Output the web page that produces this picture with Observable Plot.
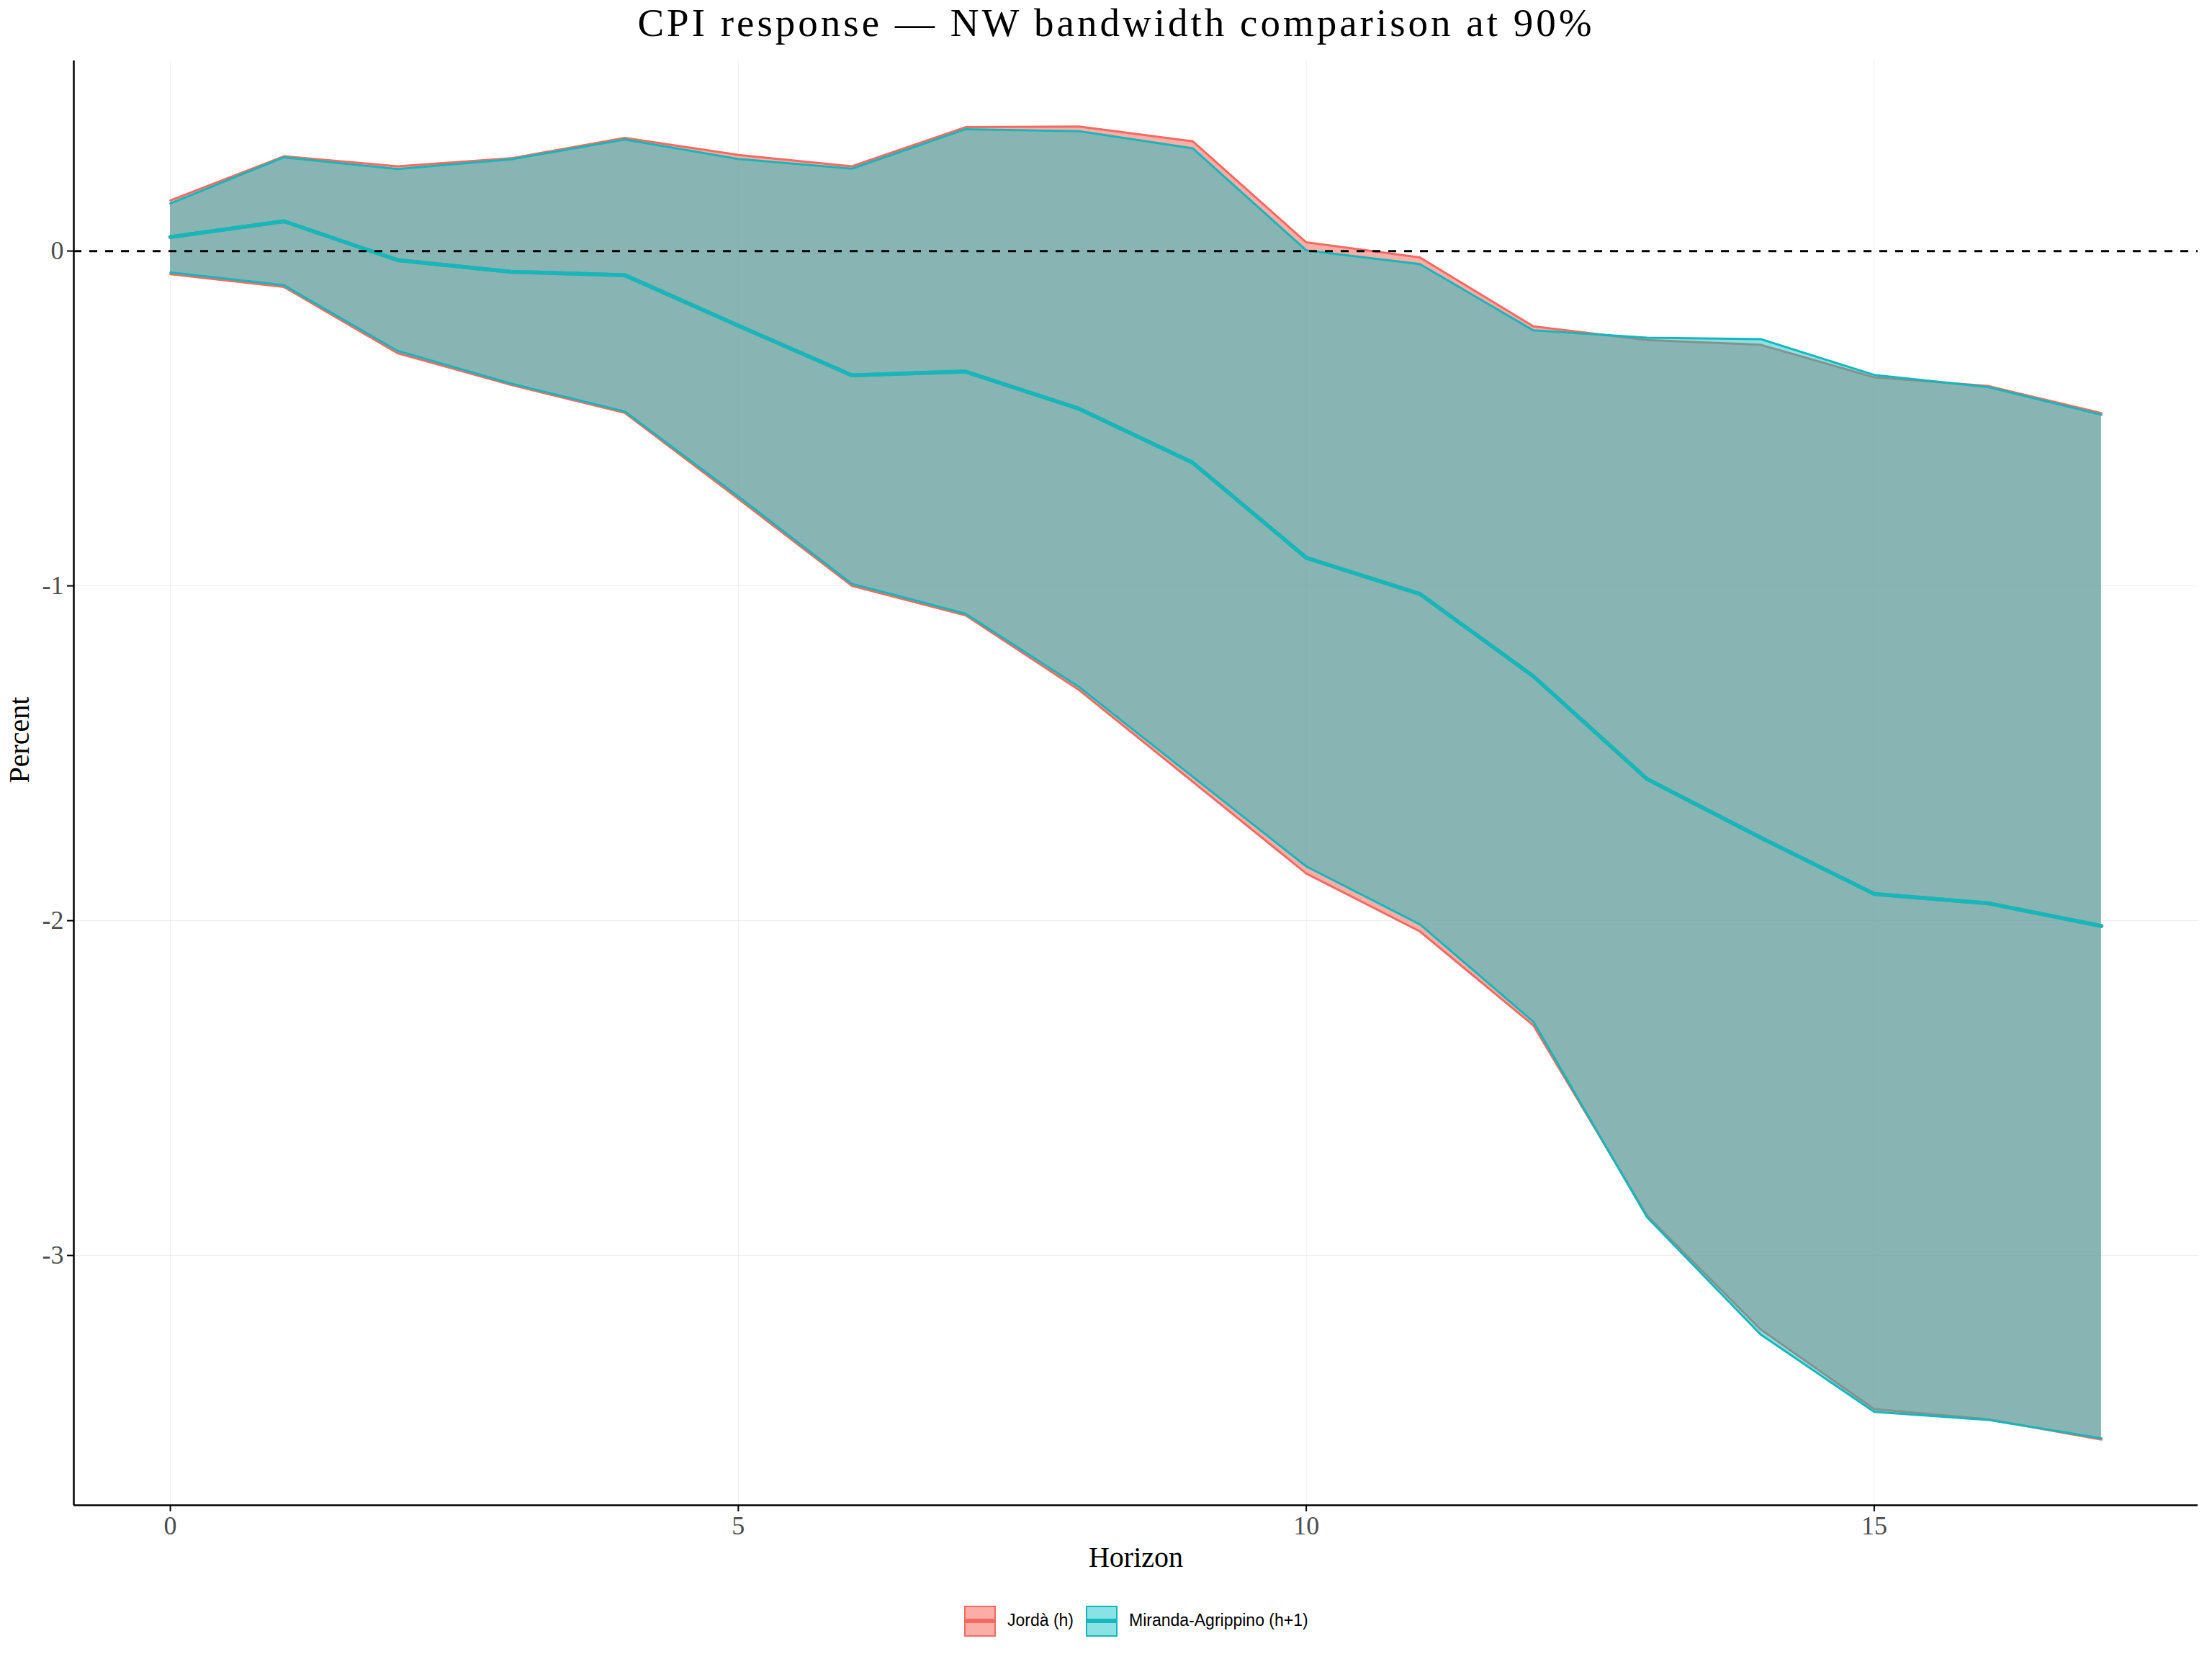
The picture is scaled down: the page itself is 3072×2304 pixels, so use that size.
<!DOCTYPE html>
<html>
<head>
<meta charset="utf-8">
<script src="https://cdn.jsdelivr.net/npm/d3@7"></script>
<script src="https://cdn.jsdelivr.net/npm/@observablehq/plot@0.6"></script>
<style>
  html, body { margin: 0; padding: 0; background: #ffffff; }
  #wrap { position: relative; width: 3072px; height: 2304px; overflow: hidden; background: #fff; }
  #title { position: absolute; top: 0; left: 0; width: 3100px; text-align: center;
           font-family: "Liberation Serif", "DejaVu Serif", serif; font-size: 55px; line-height: normal;
           letter-spacing: 4px; color: #000; white-space: nowrap; }
  #chart { position: absolute; top: 70px; left: 0; }
  #legend { position: absolute; top: 2228px; left: 0; width: 3072px; height: 48px;
            font-family: "Liberation Sans", Arial, sans-serif; font-size: 23px; color: #000; }
  .key { position: absolute; top: 2px; width: 40px; height: 39px; border: 2px solid; }
  .key .ln { position: absolute; left: 0; right: 0; top: 16px; height: 6px; }
  .lab { position: absolute; top: 0; line-height: 45px; white-space: nowrap; }
</style>
</head>
<body>
<div id="wrap">
  <div id="title">CPI response — NW bandwidth comparison at 90%</div>
  <div id="chart"></div>
  <div id="legend"></div>
</div>
<script>
// ---- data ----
const horizon = [0, 1, 2, 3, 4, 5, 6, 7, 8, 9, 10, 11, 12, 13, 14, 15, 16, 17];

const seriesNames = ["Jordà (h)", "Miranda-Agrippino (h+1)"];
const seriesColors = ["#F8766D", "#00BFC4"];
const lineColors = ["#F46A62", "#15B7BA"];

// point estimate (identical for both bandwidth choices)
const irfMean = [0.042, 0.089, -0.027, -0.062, -0.072, -0.223, -0.371, -0.360, -0.471, -0.632,
                 -0.916, -1.024, -1.270, -1.577, -1.752, -1.920, -1.948, -2.016];

const jordaUpper = [0.151, 0.283, 0.253, 0.277, 0.338, 0.287, 0.253, 0.370, 0.372, 0.328,
                    0.026, -0.019, -0.225, -0.266, -0.280, -0.377, -0.403, -0.484];
const jordaLower = [-0.069, -0.107, -0.305, -0.400, -0.483, -0.740, -1.000, -1.088, -1.311, -1.585,
                    -1.859, -2.032, -2.313, -2.881, -3.221, -3.459, -3.489, -3.550];

const maUpper = [0.142, 0.280, 0.245, 0.274, 0.333, 0.275, 0.246, 0.364, 0.358, 0.307,
                 0.002, -0.039, -0.237, -0.259, -0.263, -0.370, -0.406, -0.489];
const maLower = [-0.064, -0.102, -0.298, -0.396, -0.479, -0.733, -0.994, -1.083, -1.302, -1.570,
                 -1.838, -2.011, -2.302, -2.886, -3.236, -3.467, -3.491, -3.546];

const xTicks = [0, 5, 10, 15];
const yTicks = [0, -1, -2, -3];

// ---- build tables ----
function rows(upper, lower, mean) {
  return horizon.map((h, i) => ({h, upper: upper[i], lower: lower[i], mean: mean[i]}));
}
const jorda = rows(jordaUpper, jordaLower, irfMean);
const ma = rows(maUpper, maLower, irfMean);

// ggplot-style 5% expansion
const allY = jordaUpper.concat(jordaLower, maUpper, maLower, irfMean);
const yMin = d3.min(allY), yMax = d3.max(allY);
const yPad = (yMax - yMin) * 0.05;
const yDomain = [yMin - yPad, yMax + yPad];
const xPad = (d3.max(horizon) - d3.min(horizon)) * 0.05;
const xDomain = [d3.min(horizon) - xPad, d3.max(horizon) + xPad];

const fillOpacity = [0.6, 0.46];

function bandMarks(data, k) {
  const c = seriesColors[k];
  const lc = lineColors[k];
  return [
    Plot.areaY(data, {x: "h", y1: "lower", y2: "upper", fill: c, fillOpacity: fillOpacity[k], curve: "linear"}),
    Plot.line(data, {x: "h", y: "upper", stroke: lc, strokeWidth: 3}),
    Plot.line(data, {x: "h", y: "lower", stroke: lc, strokeWidth: 3}),
    Plot.line(data, {x: "h", y: "mean", stroke: lc, strokeWidth: 5.5})
  ];
}

const fmtY = d => (d < 0 ? "-" + Math.abs(d) : String(d));

const chart = Plot.plot({
  width: 3072,
  height: 2130,
  marginLeft: 102,
  marginRight: 20,
  marginTop: 14,
  marginBottom: 110,
  style: {fontFamily: "'Liberation Serif', 'DejaVu Serif', serif", background: "#ffffff", color: "#000"},
  x: {domain: xDomain},
  y: {domain: yDomain},
  marks: [
    Plot.gridX(xTicks, {stroke: "#ededed", strokeOpacity: 1, strokeWidth: 1}),
    Plot.gridY(yTicks, {stroke: "#ededed", strokeOpacity: 1, strokeWidth: 1}),
    ...bandMarks(jorda, 0),
    ...bandMarks(ma, 1),
    Plot.ruleY([0], {stroke: "#000", strokeWidth: 3, strokeDasharray: "11,11"}),
    Plot.ruleX([xDomain[0]], {stroke: "#000", strokeWidth: 2.5}),
    Plot.ruleY([yDomain[0]], {stroke: "#000", strokeWidth: 2.5}),
    Plot.axisX({ticks: xTicks, tickSize: 9, tickPadding: 6, fontSize: 36, fill: "#4d4d4d",
                stroke: "#000", strokeWidth: 2, label: null, tickFormat: d => String(d)}),
    Plot.axisY({ticks: yTicks, tickSize: 9, tickPadding: 5, fontSize: 36, fill: "#4d4d4d",
                stroke: "#000", strokeWidth: 2, label: null, tickFormat: fmtY}),
    Plot.text(["Horizon"], {frameAnchor: "bottom", dy: 73, fontSize: 40, fill: "#000", lineAnchor: "middle", text: d => d}),
    Plot.text(["Percent"], {frameAnchor: "left", dx: -75, rotate: -90, fontSize: 40, fill: "#000", lineAnchor: "middle", text: d => d})
  ]
});
document.getElementById("chart").appendChild(chart);

// ---- legend ----
const legend = document.getElementById("legend");
const keyLeft = [1339, 1508];
const labLeft = [1399, 1568];
seriesNames.forEach((name, k) => {
  const c = d3.color(lineColors[k]);
  const fillC = d3.color(seriesColors[k]); fillC.opacity = fillOpacity[k];
  const key = document.createElement("div");
  key.className = "key";
  key.style.left = keyLeft[k] + "px";
  key.style.borderColor = c.formatHex();
  key.style.background = fillC.formatRgb();
  const ln = document.createElement("div");
  ln.className = "ln";
  ln.style.background = c.formatHex();
  key.appendChild(ln);
  legend.appendChild(key);
  const lab = document.createElement("div");
  lab.className = "lab";
  lab.style.left = labLeft[k] + "px";
  lab.textContent = name;
  legend.appendChild(lab);
});
</script>
</body>
</html>
